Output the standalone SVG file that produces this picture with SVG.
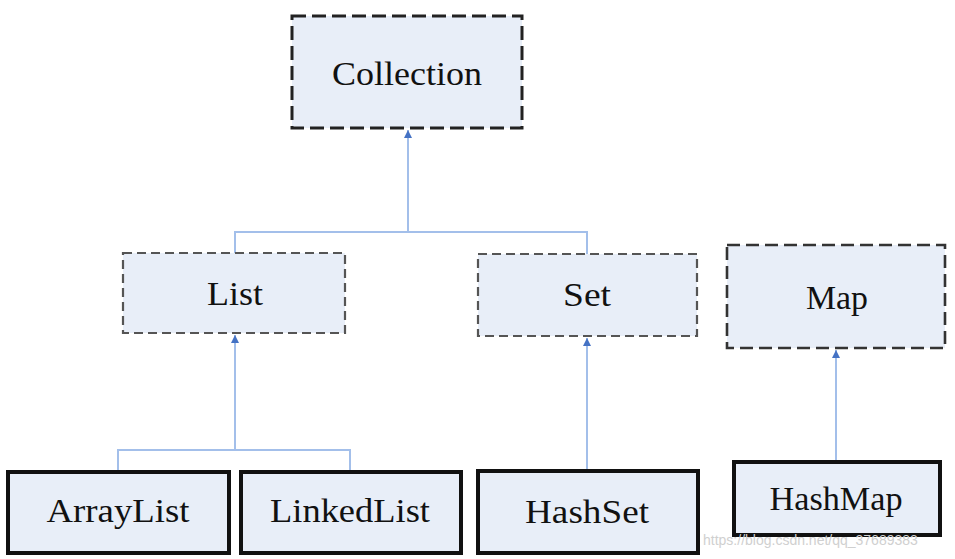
<svg xmlns="http://www.w3.org/2000/svg" width="955" height="559" viewBox="0 0 955 559">
<style>
.d1{stroke:#222;stroke-width:3;stroke-dasharray:14 6;fill:#E8EEF8}
.d2{stroke:#555;stroke-width:2.2;stroke-dasharray:9 5;fill:#E8EEF8}
.d3{stroke:#333;stroke-width:2.6;stroke-dasharray:13 6;fill:#E8EEF8}
.s{stroke:#111;stroke-width:4;fill:#E8EEF8}
.t{font-size:34px;fill:#111;text-anchor:middle}
.c{stroke:#A3BFEA;stroke-width:2;fill:none}
</style>
<defs>
<marker id="ah" viewBox="0 0 10 10" refX="10" refY="5" markerWidth="11" markerHeight="8" orient="auto" markerUnits="userSpaceOnUse">
<path d="M0,0 L10,5 L0,10 z" fill="#4472C4"/>
</marker>
</defs>
<rect width="955" height="559" fill="#fff"/>
<g id="connectors">
<path class="c" d="M235,253 V232 H587 V254"/>
<path class="c" d="M408,232 V130" marker-end="url(#ah)"/>
<path class="c" d="M118,471 V450 H350 V471"/>
<path class="c" d="M235,450 V335" marker-end="url(#ah)"/>
<path class="c" d="M587,470 V338" marker-end="url(#ah)"/>
<path class="c" d="M836,461 V350" marker-end="url(#ah)"/>
</g>
<g font-family="Liberation Serif, Times New Roman, DejaVu Serif, serif">
<g id="collection"><rect class="d1" x="292" y="16" width="230" height="112"/><text class="t" x="407" y="85" textLength="150" lengthAdjust="spacingAndGlyphs">Collection</text></g>
<g id="list"><rect class="d2" x="123" y="253" width="222" height="80"/><text class="t" x="235" y="305" textLength="56" lengthAdjust="spacingAndGlyphs">List</text></g>
<g id="set"><rect class="d2" x="478" y="254" width="219" height="82"/><text class="t" x="587" y="306" textLength="48" lengthAdjust="spacingAndGlyphs">Set</text></g>
<g id="map"><rect class="d3" x="727" y="245" width="218" height="103"/><text class="t" x="837" y="309" textLength="62" lengthAdjust="spacingAndGlyphs">Map</text></g>
<g id="arraylist"><rect class="s" x="8" y="472" width="221" height="81"/><text class="t" x="118" y="522" textLength="143" lengthAdjust="spacingAndGlyphs">ArrayList</text></g>
<g id="linkedlist"><rect class="s" x="241" y="472" width="220" height="81"/><text class="t" x="350" y="522" textLength="160" lengthAdjust="spacingAndGlyphs">LinkedList</text></g>
<g id="hashset"><rect class="s" x="478" y="471" width="220" height="82"/><text class="t" x="587" y="523" textLength="124" lengthAdjust="spacingAndGlyphs">HashSet</text></g>
<g id="hashmap"><rect class="s" x="734" y="462" width="206" height="73"/><text class="t" x="836" y="510" textLength="133" lengthAdjust="spacingAndGlyphs">HashMap</text></g>
</g>
<text x="703" y="545" font-family="Liberation Sans, Arial, sans-serif" font-size="14" fill="#d0d0d0">https://blog.csdn.net/qq_37689383</text>
</svg>
